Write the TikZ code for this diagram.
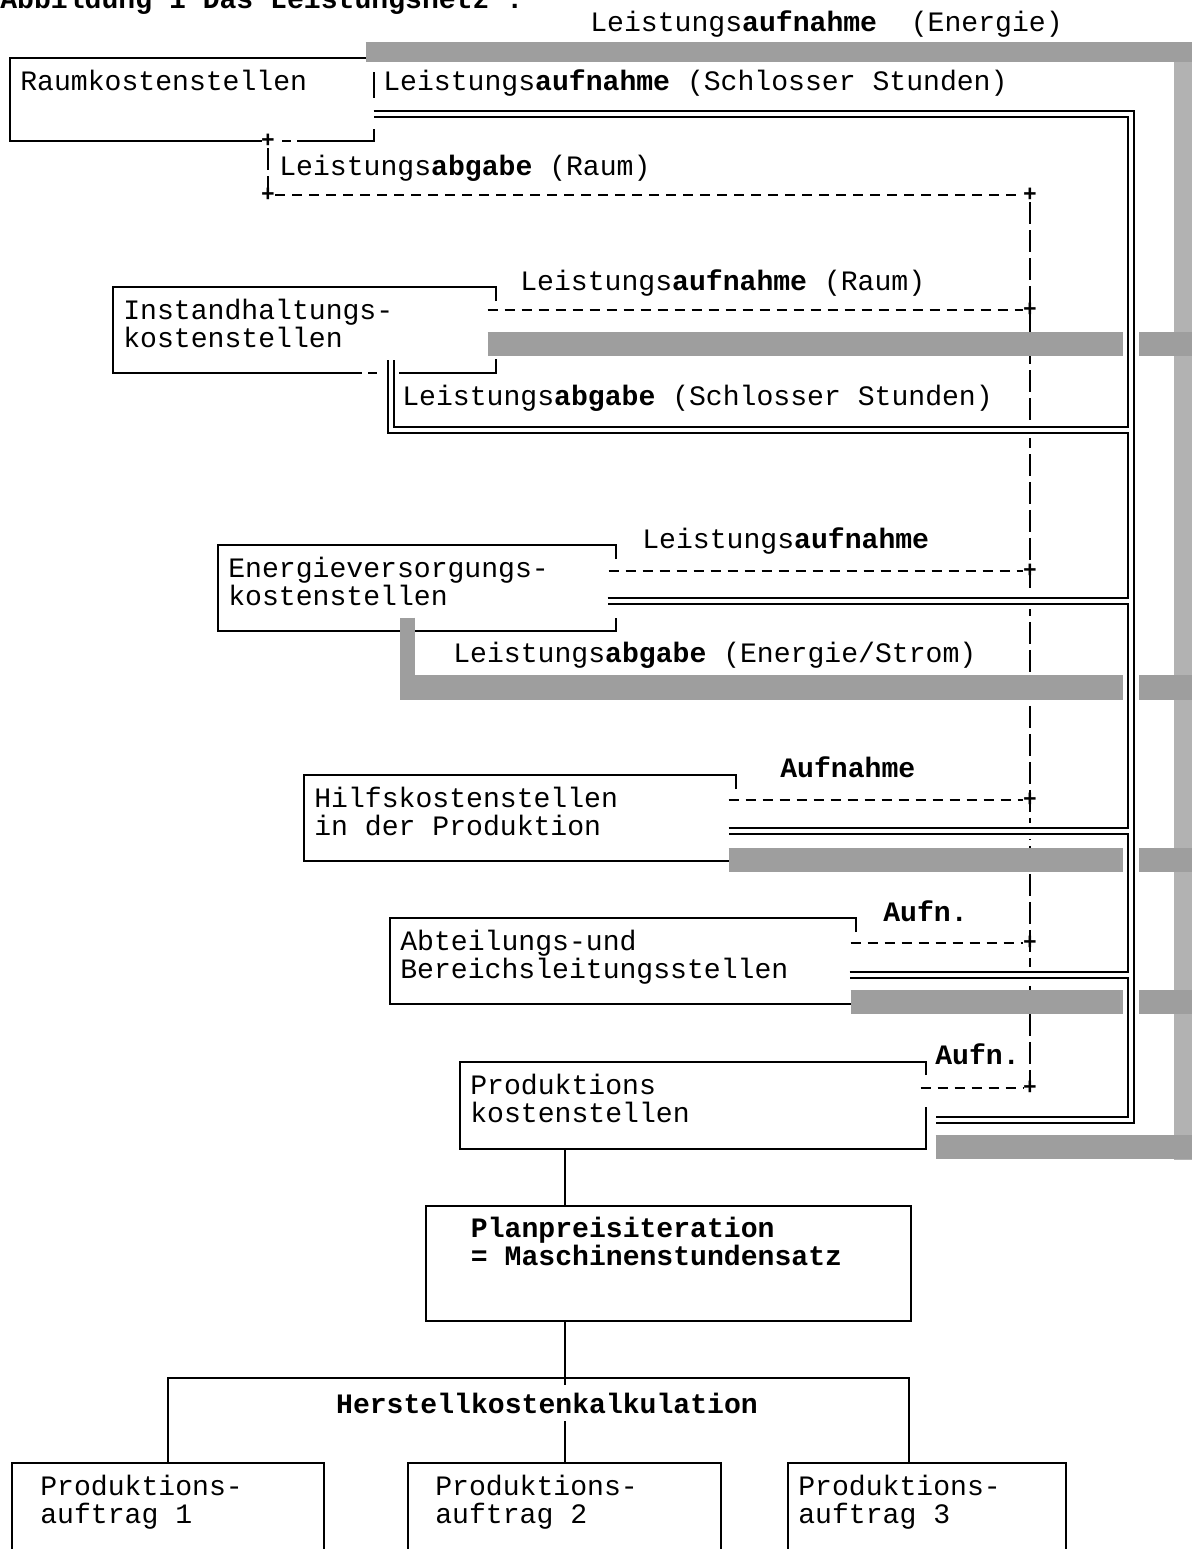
\documentclass[tikz,border=0pt]{standalone}
\usepackage{fontspec}
\setmonofont{Liberation Mono}
\usetikzlibrary{calc}
\newcommand{\kfont}{\ttfamily\fontsize{16pt}{15.93pt}\selectfont}
\tikzset{
  kbox/.style 2 args={anchor=north west, inner xsep=0.2cm, inner ysep=0pt,
    align=left, font=\kfont, text width=#1, text height=0.64cm, text depth=#2,
    execute at begin node={\spaceskip=0pt\xspaceskip=0pt\relax}},
  klabel/.style={anchor=base west, font=\kfont, inner sep=0pt},
  kline/.style={line width=1.1pt},
  kdashh/.style={line width=1.2pt, dash pattern=on 0.2cm off 0.14cm},
  kdashv/.style={line width=1.2pt, dash pattern=on 0.44cm off 0.12cm},
  kplus/.style={font=\ttfamily\bfseries\fontsize{13pt}{13pt}\selectfont, inner sep=0pt},
  wire/.style={preaction={draw=white, line width=9pt}, draw=black,
    double=white, double distance=1.8pt, line width=1.2pt},
  eband/.style={draw=black!38, line width=0.48cm}
}

\begin{document}
\begin{tikzpicture}[x=0.02cm, y=-0.02cm]
\useasboundingbox (0,0) rectangle (1192,1549);

% titel und beschriftungen
\node[klabel, font=\kfont\bfseries] (titel) at (0,8) {Abbildung 1 Das Leistungsnetz :};
\node[klabel] (lab-eng) at (590,31) {Leistungs\textbf{aufnahme}~~(Energie)};
\node[klabel] (lab-schl) at (383,90) {Leistungs\textbf{aufnahme} (Schlosser Stunden)};
\node[klabel] (lab-rab) at (279,175) {Leistungs\textbf{abgabe} (Raum)};
\node[klabel] (lab-rauf) at (520,290) {Leistungs\textbf{aufnahme} (Raum)};
\node[klabel] (lab-sab) at (402,405) {Leistungs\textbf{abgabe} (Schlosser Stunden)};
\node[klabel] (lab-eauf) at (642,548) {Leistungs\textbf{aufnahme}};
\node[klabel] (lab-eab) at (453,662) {Leistungs\textbf{abgabe} (Energie/Strom)};
\node[klabel] (lab-hauf) at (780,777) {\textbf{Aufnahme}};
\node[klabel] (lab-aauf) at (883,921) {\textbf{Aufn.}};
\node[klabel] (lab-pauf) at (935,1064) {\textbf{Aufn.}};

% kostenstellen
\node[kbox={6.86cm}{1.00cm}] (raum) at (10,58) {Raumkostenstellen};
\node[kbox={7.24cm}{1.06cm}] (instand) at (113,287) {Instandhaltungs-\\kostenstellen};
\node[kbox={7.54cm}{1.06cm}] (energie) at (218,545) {Energieversorgungs-\\kostenstellen};
\node[kbox={8.22cm}{1.06cm}] (hilfs) at (304,775) {Hilfskostenstellen\\in der Produktion};
\node[kbox={8.90cm}{1.06cm}] (abteil) at (390,918) {Abteilungs-und\\Bereichsleitungsstellen};
\node[kbox={8.90cm}{1.08cm}] (prodks) at (460,1062) {Produktions\\kostenstellen};
\node[kbox={7.90cm}{1.66cm}, inner xsep=0.9cm, font=\kfont\bfseries, draw, kline] (planpreis)
  at (425,1205) {Planpreisiteration\\= Maschinenstundensatz};
\node[kbox={5.10cm}{1.06cm}, inner xsep=0.56cm] (pa1) at (12,1463) {Produktions-\\auftrag 1};
\node[kbox={5.16cm}{1.06cm}, inner xsep=0.54cm] (pa2) at (408,1463) {Produktions-\\auftrag 2};
\node[kbox={5.14cm}{1.06cm}] (pa3) at (788,1463) {Produktions-\\auftrag 3};

% offene rahmen
\draw[kline] ($(raum.north east)+(-8,0)$) -- (raum.north west) -- (raum.south west) -- ++(252,0);
\draw[kline] ($(raum.south west)+(272,0)$) -- ++(9,0);
\draw[kline] ($(raum.south west)+(287,0)$) -- (raum.south east) -- ++(0,-12);
\draw[kline] ($(raum.north east)+(0,14)$) -- ++(0,26);
\draw[kline] ($(instand.north east)+(0,14)$) -- (instand.north east) -- (instand.north west)
  -- (instand.south west) -- ++(249,0);
\draw[kline] ($(instand.south west)+(255,0)$) -- ++(9,0);
\draw[kline] ($(instand.south west)+(270,0)$) -- (instand.south east) -- ++(0,-14);
\draw[kline] ($(energie.north east)+(0,14)$) -- (energie.north east) -- (energie.north west)
  -- (energie.south west) -- (energie.south east) -- ++(0,-13);
\draw[kline] ($(hilfs.north east)+(0,14)$) -- (hilfs.north east) -- (hilfs.north west)
  -- (hilfs.south west) -- (hilfs.south east);
\draw[kline] ($(abteil.north east)+(0,14)$) -- (abteil.north east) -- (abteil.north west)
  -- (abteil.south west) -- (abteil.south east);
\draw[kline] ($(prodks.north east)+(0,13)$) -- (prodks.north east) -- (prodks.north west)
  -- (prodks.south west) -- (prodks.south east) -- ++(0,-42);
\foreach \n in {pa1,pa2,pa3}
  \draw[kline] (\n.north west |- 0,1560) -- (\n.north west) -- (\n.north east) -- (\n.north east |- 0,1560);

% kalkulation
\draw[kline] (prodks.south -| 565,0) -- (planpreis.north -| 565,0);
\draw[kline] (planpreis.south -| 565,0) -- (pa2.north -| 565,0);
\draw[kline] (pa1.north) -- (pa1.north |- 0,1378) -- (909,1378) -- (pa3.north -| 909,0);
\node[font=\kfont\bfseries, fill=white, inner xsep=2pt, inner ysep=0.15cm] (herst)
  at (547,1403) {Herstellkostenkalkulation};

% raum (gestrichelt)
\node[kplus] (q0) at (268,141) {+};
\node[kplus] (q1) at (268,195) {+};
\foreach \y [count=\i] in {195,310,571,800,943,1088}
  \node[kplus] (d\i) at (1030,\y) {+};
\draw[kdashv] (q0) -- (q1);
\draw[kdashh] (q1) -- (d1);
\draw[kdashv] (d1) -- (d6);
\draw[kdashh] ($(instand.east |- d2)+(-8,0)$) -- (d2);
\draw[kdashh] ($(energie.east |- d3)+(-7,0)$) -- (d3);
\draw[kdashh] ($(hilfs.east |- d4)+(-7,0)$) -- (d4);
\draw[kdashh] ($(abteil.east |- d5)+(-5,0)$) -- (d5);
\draw[kdashh] ($(prodks.east |- d6)+(-5,0)$) -- (d6);

% energie (grau)
\draw[eband, draw=black!30, line width=0.4cm] (1184,42) -- (1184,1160);
\draw[eband, line width=0.4cm] ($(raum.north east)+(-8,-6)$) -- (1192,52);
\draw[eband] ($(instand.east |- 0,344)+(-8,0)$) -- (1192,344);
\draw[eband, line width=0.3cm] ($(energie.south west -| 407,0)+(0,-13)$) -- (407,678);
\draw[eband, line width=0.5cm] (400,687) -- (1192,687);
\draw[eband] ($(hilfs.east |- 0,860)+(-7,0)$) -- (1192,860);
\draw[eband] ($(abteil.east |- 0,1002)+(-5,0)$) -- (1192,1002);
\draw[eband] ($(prodks.east |- 0,1147)+(10,0)$) -- (1192,1147);

% schlosser stunden (doppelt)
\coordinate (wt) at (1131,114);
\coordinate (wb) at (1131,1120);
\draw[wire] (raum.east |- wt) -- (wt) -- (wb) -- ($(prodks.east |- wb)+(10,0)$)
  (391,360) -- (391,430) -- (wt |- 0,430)
  ($(energie.east |- 0,601)+(-8,0)$) -- (wt |- 0,601)
  ($(hilfs.east |- 0,831)+(-7,0)$) -- (wt |- 0,831)
  ($(abteil.east |- 0,975)+(-6,0)$) -- (wt |- 0,975);
\end{tikzpicture}
\end{document}
